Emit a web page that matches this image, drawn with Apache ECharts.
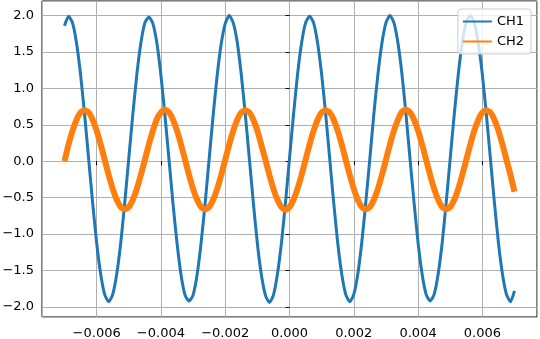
<!DOCTYPE html>
<html>
<head>
<meta charset="utf-8">
<script src="https://cdn.jsdelivr.net/npm/echarts@6/dist/echarts.min.js"></script>
<style>
html,body{margin:0;padding:0;background:#fff;}
#chart{width:540px;height:339px;}
</style>
</head>
<body>
<div id="chart"></div>
<script>
// time (s)
const t = [
-0.007,-0.006875,-0.00675,-0.006625,-0.0065,-0.006375,-0.00625,-0.006125,
-0.006,-0.005875,-0.00575,-0.005625,-0.0055,-0.005375,-0.00525,-0.005125,
-0.005,-0.004875,-0.00475,-0.004625,-0.0045,-0.004375,-0.00425,-0.004125,
-0.004,-0.003875,-0.00375,-0.003625,-0.0035,-0.003375,-0.00325,-0.003125,
-0.003,-0.002875,-0.00275,-0.002625,-0.0025,-0.002375,-0.00225,-0.002125,
-0.002,-0.001875,-0.00175,-0.001625,-0.0015,-0.001375,-0.00125,-0.001125,
-0.001,-0.000875,-0.00075,-0.000625,-0.0005,-0.000375,-0.00025,-0.000125,
0,
0.000125,0.00025,0.000375,0.0005,0.000625,0.00075,0.000875,0.001,
0.001125,0.00125,0.001375,0.0015,0.001625,0.00175,0.001875,0.002,
0.002125,0.00225,0.002375,0.0025,0.002625,0.00275,0.002875,0.003,
0.003125,0.00325,0.003375,0.0035,0.003625,0.00375,0.003875,0.004,
0.004125,0.00425,0.004375,0.0045,0.004625,0.00475,0.004875,0.005,
0.005125,0.00525,0.005375,0.0055,0.005625,0.00575,0.005875,0.006,
0.006125,0.00625,0.006375,0.0065,0.006625,0.00675,0.006875,0.007
];
const ch1 = [
1.86,
1.99,1.90,1.62,1.19,0.64,0.04,-0.57,-1.12,-1.55,-1.83,-1.93,-1.83,-1.55,-1.12,-0.57,0.04,0.64,1.19,1.62,1.90,
1.98,1.89,1.62,1.18,0.63,0.03,-0.58,-1.12,-1.56,-1.84,-1.92,-1.84,-1.56,-1.12,-0.58,0.03,0.63,1.18,1.61,1.89,
2.00,1.90,1.63,1.19,0.64,0.04,-0.57,-1.13,-1.56,-1.84,-1.94,-1.84,-1.55,-1.12,-0.57,0.04,0.64,1.19,1.62,1.90,
1.99,1.90,1.62,1.19,0.65,0.04,-0.57,-1.12,-1.55,-1.83,-1.93,-1.83,-1.55,-1.11,-0.56,0.04,0.65,1.19,1.62,1.90,
2.00,1.90,1.62,1.19,0.64,0.03,-0.57,-1.12,-1.55,-1.83,-1.92,-1.83,-1.55,-1.12,-0.57,0.04,0.64,1.19,1.63,1.91,
2.00,1.90,1.62,1.19,0.64,0.04,-0.57,-1.12,-1.55,-1.83,-1.93,-1.78
];
const ch2 = [
0.00,0.23,0.42,0.57,0.67,0.70,0.67,0.57,0.42,0.23,0.02,-0.19,-0.38,-0.53,-0.63,-0.66,-0.63,-0.53,-0.38,-0.19,
0.02,0.23,0.42,0.58,0.67,0.71,0.67,0.57,0.42,0.23,0.02,-0.19,-0.38,-0.53,-0.63,-0.66,-0.63,-0.53,-0.38,-0.19,
0.02,0.23,0.42,0.57,0.67,0.70,0.67,0.57,0.42,0.22,0.02,-0.19,-0.38,-0.53,-0.63,-0.67,-0.63,-0.53,-0.38,-0.19,
0.02,0.23,0.42,0.57,0.67,0.70,0.67,0.57,0.42,0.23,0.02,-0.19,-0.38,-0.53,-0.63,-0.66,-0.63,-0.53,-0.38,-0.19,
0.02,0.23,0.42,0.57,0.68,0.71,0.67,0.57,0.42,0.23,0.02,-0.19,-0.38,-0.53,-0.63,-0.66,-0.63,-0.53,-0.38,-0.19,
0.02,0.23,0.42,0.57,0.67,0.70,0.67,0.57,0.42,0.23,0.02,-0.19,-0.42
];
const seriesNames = ['CH1', 'CH2'];

const FONT = 'DejaVu Sans';
const minus = s => s.replace('-', '\u2212');
const pairs = arr => arr.map((v, i) => [t[i], v]);

const chart = echarts.init(document.getElementById('chart'), null, {renderer: 'canvas'});
chart.setOption({
  animation: false,
  textStyle: {fontFamily: FONT},
  grid: {left: 42, right: 3, top: 1, bottom: 22, show: true, borderColor: '#000', borderWidth: 1,
    backgroundColor: 'transparent', containLabel: false, outerBoundsMode: 'none'},
  legend: {
    data: seriesNames,
    orient: 'vertical',
    right: 9, top: 9,
    padding: [6, 7, 6, 5],
    itemGap: 7,
    itemWidth: 29, itemHeight: 2,
    itemTextGap: 11,
    icon: 'rect',
    backgroundColor: 'rgba(255,255,255,0.8)',
    borderColor: '#cccccc', borderWidth: 1, borderRadius: 3,
    textStyle: {fontFamily: FONT, fontSize: 13, color: '#000'}
  },
  xAxis: {
    type: 'value',
    min: -0.0077, max: 0.0077,
    minInterval: 0.002, maxInterval: 0.002, splitNumber: 7,
    axisLine: {show: false},
    axisTick: {show: true, inside: false, length: 4, lineStyle: {color: '#000', width: 1}},
    axisLabel: {showMinLabel: false, showMaxLabel: false, margin: 10, fontFamily: FONT, fontSize: 13, color: '#000',
      formatter: v => minus(v.toFixed(3))},
    splitLine: {show: true, lineStyle: {color: '#b0b0b0', width: 1}}
  },
  yAxis: {
    type: 'value',
    min: -2.14, max: 2.2,
    minInterval: 0.5, maxInterval: 0.5, splitNumber: 8,
    axisLine: {show: false},
    axisTick: {show: true, inside: false, length: 4, lineStyle: {color: '#000', width: 1}},
    axisLabel: {showMinLabel: false, showMaxLabel: false, margin: 8, fontFamily: FONT, fontSize: 13, color: '#000',
      formatter: v => minus(v.toFixed(1))},
    splitLine: {show: true, lineStyle: {color: '#b0b0b0', width: 1}}
  },
  series: [
    {name: seriesNames[0], type: 'line', data: pairs(ch1), smooth: 0.2, showSymbol: false, symbol: 'none',
      lineStyle: {color: '#1f77b4', width: 3}, itemStyle: {color: '#1f77b4'}},
    {name: seriesNames[1], type: 'line', data: pairs(ch2), smooth: 0.2, showSymbol: false, symbol: 'none',
      lineStyle: {color: '#ff7f0e', width: 6}, itemStyle: {color: '#ff7f0e'}}
  ]
});
</script>
</body>
</html>
